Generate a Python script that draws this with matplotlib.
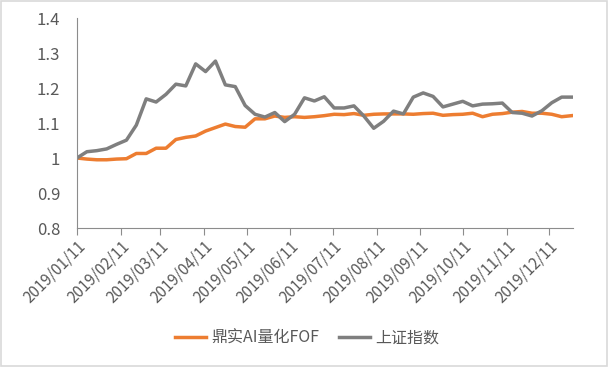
import pandas as pd
import matplotlib
matplotlib.use('Agg')
import matplotlib.pyplot as plt
import matplotlib.dates as mdates
from matplotlib.patches import Rectangle

plt.rcParams['font.family'] = ['Noto Sans CJK SC', 'DejaVu Sans']

# weekly closes (Fridays), both normalised to 1 at the start
dates = pd.date_range('2019-01-11', periods=51, freq='7D')

fof = [1.000, 0.997, 0.995, 0.995, 0.997, 0.998, 1.013, 1.013, 1.028, 1.028,
       1.053, 1.059, 1.063, 1.077, 1.087, 1.097, 1.090, 1.088, 1.112, 1.112,
       1.120, 1.116, 1.118, 1.116, 1.118, 1.121, 1.125, 1.124, 1.127, 1.122,
       1.125, 1.126, 1.126, 1.126, 1.125, 1.127, 1.128, 1.122, 1.124, 1.125,
       1.128, 1.118, 1.125, 1.127, 1.131, 1.133, 1.128, 1.128, 1.125, 1.118,
       1.121]

sse = [1.000, 1.018, 1.021, 1.026, 1.039, 1.051, 1.094, 1.169, 1.160, 1.182,
       1.211, 1.206, 1.269, 1.247, 1.277, 1.209, 1.204, 1.150, 1.125, 1.117,
       1.130, 1.104, 1.125, 1.172, 1.163, 1.175, 1.143, 1.143, 1.149, 1.120,
       1.085, 1.105, 1.134, 1.126, 1.174, 1.186, 1.176, 1.146, 1.154, 1.162,
       1.149, 1.154, 1.155, 1.157, 1.130, 1.128, 1.120, 1.135, 1.158, 1.174,
       1.174]

names = ['鼎实AI量化FOF', '上证指数']
# ticks on the 11th of every month
tick_dates = pd.date_range('2019-01-01', '2019-12-01', freq='MS') + pd.Timedelta(days=10)

text_color = '#595959'
axis_color = '#8C8C8C'

fig = plt.figure(figsize=(6.08, 3.67), dpi=100)
ax = fig.add_axes([0.1266, 0.3787, 0.8158, 0.5722])

ax.plot(dates, fof, color='#ED7D31', lw=2.5, label=names[0], solid_joinstyle='round')
ax.plot(dates, sse, color='#7F7F7F', lw=2.5, label=names[1], solid_joinstyle='round')

ax.set_ylim(0.8, 1.4)
ax.set_yticks([0.8, 0.9, 1.0, 1.1, 1.2, 1.3, 1.4])
ax.set_yticklabels(['0.8', '0.9', '1', '1.1', '1.2', '1.3', '1.4'])
ax.set_xlim(dates[0], dates[-1] + pd.Timedelta(days=1))
ax.set_xticks(tick_dates)
ax.xaxis.set_major_formatter(mdates.DateFormatter('%Y/%m/%d'))

for s in ['top', 'right']:
    ax.spines[s].set_visible(False)
ax.spines['left'].set_color(axis_color)
ax.spines['bottom'].set_color(axis_color)
ax.tick_params(axis='y', length=0, pad=12, labelsize=12, labelcolor=text_color)
ax.tick_params(axis='x', length=5, color=axis_color, direction='out',
               labelsize=11, labelcolor=text_color, pad=2)
plt.setp(ax.get_xticklabels(), rotation=45, ha='right', rotation_mode='anchor')

fig.legend(loc='center', bbox_to_anchor=(0.505, 0.079), ncol=2, frameon=False,
           fontsize=11.5, labelcolor=text_color, handlelength=1.95,
           handletextpad=0.35, columnspacing=1.2)

fig.patches.append(Rectangle((0.002, 0.003), 0.996, 0.994, transform=fig.transFigure,
                             fill=False, edgecolor='#D9D9D9', lw=1.2))

fig.savefig('out.png', dpi=100)
